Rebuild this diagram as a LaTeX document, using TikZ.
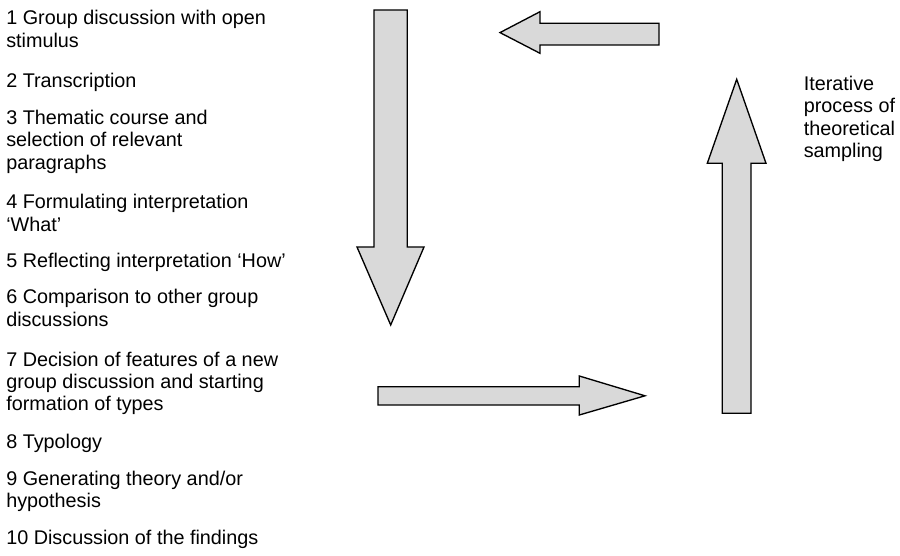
\documentclass[tikz,border=0pt]{standalone}
\usepackage{fontspec}
\setmainfont{Liberation Sans}
\definecolor{arrowfill}{HTML}{D9D9D9}
\begin{document}
\begin{tikzpicture}[x=0.75pt,y=-0.75pt,
  stage/.style={anchor=base west,inner sep=0pt,align=left,
    font=\fontsize{14.85pt}{16.75pt}\selectfont},
  bigarrow/.style={draw=black,fill=arrowfill,line width=1pt,line join=miter}]
\useasboundingbox (0,0) rectangle (900,556);
% stage list (anchor = baseline of the last line)
\node[stage] (s1) at (6,47.3) {1 Group discussion with open\\stimulus};
\node[stage] (s2) at (6,88) {2 Transcription};
\node[stage] (s3) at (6,169.2) {3 Thematic course and\\selection of relevant\\paragraphs};
\node[stage] (s4) at (6,231.3) {4 Formulating interpretation\\‘What’};
\node[stage] (s5) at (6,267.5) {5 Reflecting interpretation ‘How’};
\node[stage] (s6) at (6,326.3) {6 Comparison to other group\\discussions};
\node[stage] (s7) at (6,410.7) {7 Decision of features of a new\\group discussion and starting\\formation of types};
\node[stage] (s8) at (6,448) {8 Typology};
\node[stage] (s9) at (6,507.8) {9 Generating theory and/or\\hypothesis};
\node[stage] (s10) at (6,544) {10 Discussion of the findings};
% side label
\node[stage] (lbl) at (803.5,157.5) {Iterative\\process of\\theoretical\\sampling};
% down arrow
\draw[bigarrow] (374,10) -- (407.3,10) -- (407.3,247) -- (424,247) -- (390.7,325)
  -- (357,247) -- (374,247) -- cycle;
% right arrow
\draw[bigarrow] (378,386.7) -- (579.3,386.7) -- (579.3,376) -- (645,395.8)
  -- (579.3,415) -- (579.3,405) -- (378,405) -- cycle;
% up arrow
\draw[bigarrow] (722.3,413.3) -- (722.3,163.3) -- (707.3,163.3) -- (736.7,79.3)
  -- (766,163.3) -- (751,163.3) -- (751,413.3) -- cycle;
% left arrow
\draw[bigarrow] (659,23.3) -- (540,23.3) -- (540,11.7) -- (500,32.6)
  -- (540,53.3) -- (540,45) -- (659,45) -- cycle;
\end{tikzpicture}
\end{document}
